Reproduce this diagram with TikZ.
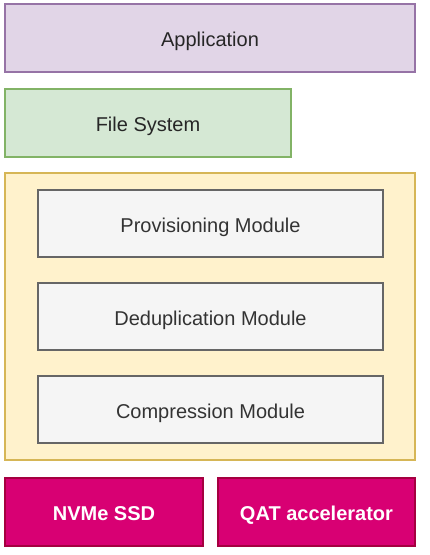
\documentclass[tikz,border=0pt]{standalone}
\usepackage{fontspec}
\setmainfont{Liberation Sans}
\definecolor{appfill}{HTML}{E1D5E7}
\definecolor{appdraw}{HTML}{9673A6}
\definecolor{fsfill}{HTML}{D5E8D4}
\definecolor{fsdraw}{HTML}{82B366}
\definecolor{corefill}{HTML}{FFF2CC}
\definecolor{coredraw}{HTML}{D6B656}
\definecolor{modfill}{HTML}{F5F5F5}
\definecolor{moddraw}{HTML}{666666}
\definecolor{modtext}{HTML}{333333}
\definecolor{hwfill}{HTML}{D80073}
\definecolor{hwdraw}{HTML}{A50040}
\begin{document}
\begin{tikzpicture}[x=1pt,y=-1pt,
  blk/.style={rectangle, inner sep=0pt, outer sep=0pt, anchor=north west, line width=1.3pt,
    font=\fontsize{20}{23}\selectfont, minimum height=68pt, text height=17pt, text depth=0pt},
  appbox/.style={blk, fill=appfill, draw=appdraw, text=black!85},
  fsbox/.style={blk, fill=fsfill, draw=fsdraw, text=black!85},
  corebox/.style={blk, fill=corefill, draw=coredraw},
  modbox/.style={blk, fill=modfill, draw=moddraw, text=modtext, minimum width=345pt, minimum height=67pt},
  hwbox/.style={blk, fill=hwfill, draw=hwdraw, text=white, font=\fontsize{20}{23}\selectfont\bfseries, minimum width=198pt}
]
\useasboundingbox[fill=white] (0,0) rectangle (430,555);
\node[appbox, minimum width=410pt] (app) at (5,4) {Application};
\node[fsbox, minimum width=286pt] (fs) at (5,89) {File System};
\node[corebox, minimum width=410pt, minimum height=287pt] (core) at (5,173) {};
\node[modbox] (prov) at (38,190) {Provisioning Module};
\node[modbox] (dedup) at (38,283) {Deduplication Module};
\node[modbox] (comp) at (38,376) {Compression Module};
\node[hwbox] (nvme) at (5,478) {NVMe SSD};
\node[hwbox, minimum width=197pt] (qat) at (218,478) {QAT accelerator};
\end{tikzpicture}
\end{document}
